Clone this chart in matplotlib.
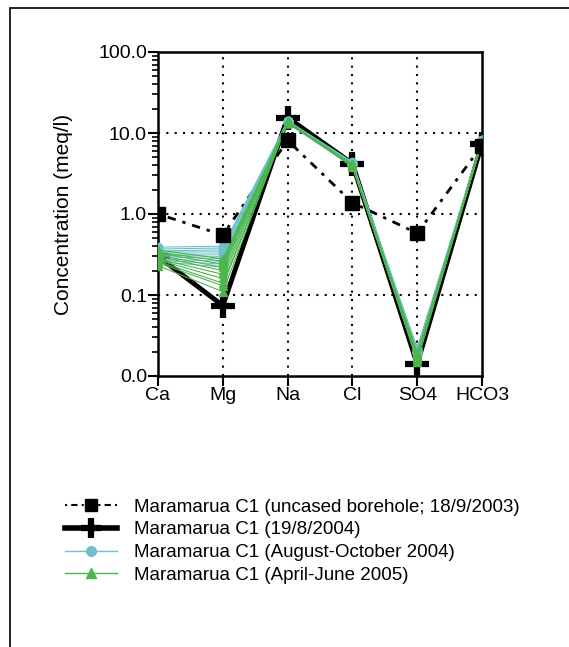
import matplotlib
matplotlib.use("Agg")
import matplotlib.pyplot as plt
from matplotlib.patches import Rectangle
from matplotlib.lines import Line2D
from matplotlib.ticker import FixedLocator, LogLocator, NullFormatter
import numpy as np

plt.rcParams['font.family'] = ['Liberation Sans', 'DejaVu Sans']

ions = ['Ca', 'Mg', 'Na', 'Cl', 'SO4', 'HCO3']

# uncased borehole 18/9/2003
uncased = [1.0, 0.55, 8.1, 1.38, 0.58, 7.0]
# 19/8/2004
aug2004 = [0.30, 0.074, 15.5, 4.2, 0.014, 7.4]

# August-October 2004 samples
augoct_ca = [0.39, 0.37, 0.35, 0.34, 0.32, 0.31, 0.30, 0.28, 0.27, 0.26]
augoct_mg = [0.40, 0.38, 0.36, 0.34, 0.32, 0.30, 0.28, 0.26, 0.24, 0.22]
augoct_na = [13.5, 14.0, 13.8, 13.2, 14.2, 13.6, 13.9, 13.4, 14.1, 13.7]
augoct_cl = [4.1, 4.3, 4.0, 4.2, 4.4, 4.1, 4.0, 4.3, 4.2, 4.1]
augoct_so4 = [0.021, 0.020, 0.022, 0.019, 0.021, 0.020, 0.022, 0.021, 0.020, 0.019]
augoct_hco3 = [8.0, 8.1, 7.9, 8.0, 8.2, 7.8, 8.0, 8.1, 7.9, 8.0]

# April-June 2005 samples
aprjun_ca = [0.36, 0.34, 0.33, 0.31, 0.30, 0.28, 0.27, 0.26, 0.25, 0.23]
aprjun_mg = [0.28, 0.26, 0.24, 0.22, 0.20, 0.18, 0.16, 0.14, 0.13, 0.11]
aprjun_na = [13.3, 13.6, 13.8, 13.4, 13.9, 13.5, 13.7, 13.2, 13.6, 13.4]
aprjun_cl = [4.0, 3.9, 4.1, 4.0, 3.8, 4.0, 4.1, 3.9, 4.0, 3.9]
aprjun_so4 = [0.019, 0.018, 0.017, 0.019, 0.016, 0.018, 0.015, 0.017, 0.018, 0.016]
aprjun_hco3 = [7.8, 7.9, 7.7, 7.8, 7.9, 7.6, 7.8, 7.7, 7.9, 7.8]

labels = ['Maramarua C1 (uncased borehole; 18/9/2003)', 'Maramarua C1 (19/8/2004)',
          'Maramarua C1 (August-October 2004)', 'Maramarua C1 (April-June 2005)']

cyan = '#6fc0cb'
green = '#4cb64c'

fig = plt.figure(figsize=(5.69, 6.47), dpi=100)
fig.patches.append(Rectangle((10/569, -0.1), 1.2, 1.1 - 8/647, transform=fig.transFigure,
                             fill=False, edgecolor='black', linewidth=1.2))
ax = fig.add_axes([158/569, 1 - 376/647, 324/569, 324/647])

x = np.arange(len(ions))

for i in range(len(augoct_ca)):
    vals = [augoct_ca[i], augoct_mg[i], augoct_na[i], augoct_cl[i], augoct_so4[i], augoct_hco3[i]]
    ax.plot(x, vals, color=cyan, lw=0.8, marker='o', ms=6, mec=cyan, mfc=cyan, zorder=4)
for i in range(len(aprjun_ca)):
    vals = [aprjun_ca[i], aprjun_mg[i], aprjun_na[i], aprjun_cl[i], aprjun_so4[i], aprjun_hco3[i]]
    ax.plot(x, vals, color=green, lw=0.8, marker='^', ms=6, mec=green, mfc=green, zorder=5)

ax.plot(x, uncased, color='black', lw=2, dashes=[1.2, 2.5, 3, 2.5], zorder=3)
ax.plot(x, uncased, color='black', lw=0, marker='s', ms=10, zorder=6)
ax.plot(x, aug2004, color='black', lw=3.5, zorder=3.5)
ax.plot(x, aug2004, color='black', lw=0, marker='+', ms=17, mew=4.5, zorder=3.5)

ax.set_yscale('log')
ax.set_ylim(0.01, 100)
ax.set_xlim(0, 5)
ax.set_xticks(x)
ax.set_xticklabels(ions, fontsize=14)
ax.yaxis.set_major_locator(FixedLocator([0.01, 0.1, 1, 10, 100]))
ax.set_yticklabels(['0.0', '0.1', '1.0', '10.0', '100.0'], fontsize=14)
ax.yaxis.set_minor_locator(LogLocator(base=10, subs=np.arange(2, 10)))
ax.yaxis.set_minor_formatter(NullFormatter())
ax.tick_params(axis='both', which='major', direction='out', length=7, width=1.5, pad=1)
ax.tick_params(axis='y', which='minor', direction='out', length=4, width=1.2)
for s in ax.spines.values():
    s.set_linewidth(1.8)

for v in [0.1, 1, 10]:
    ax.axhline(v, color='black', lw=1.5, ls=(0, (1, 3)), zorder=1)
for xi in x[1:-1]:
    ax.axvline(xi, color='black', lw=1.5, ls=(0, (1, 3)), zorder=1)

ax.set_ylabel('Concentration (meq/l)', fontsize=15, labelpad=18)

handles = [
    Line2D([], [], color='black', lw=1.5, dashes=[1, 2, 3, 2], marker='s', ms=8),
    Line2D([], [], color='black', lw=4, marker='+', ms=15, mew=4.5),
    Line2D([], [], color=cyan, lw=1, marker='o', ms=7),
    Line2D([], [], color=green, lw=1, marker='^', ms=7),
]
fig.legend(handles, labels, loc='upper left', bbox_to_anchor=(57/569, 1 - 491/647),
           frameon=False, fontsize=13.5, handlelength=2.8, handletextpad=0.9, labelspacing=0.3,
           borderaxespad=0)

fig.savefig('out.png', dpi=100)
